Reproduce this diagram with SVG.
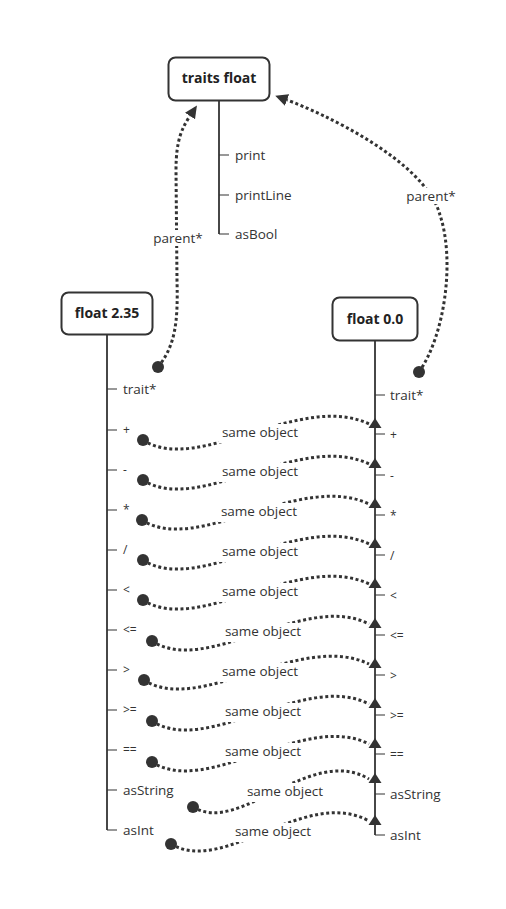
<svg xmlns="http://www.w3.org/2000/svg" width="506" height="909" viewBox="0 0 506 909">
<style>
.box{fill:#fff;stroke:#333;stroke-width:2}
.title{font-family:"Open Sans","DejaVu Sans",sans-serif;font-weight:bold;font-size:14px;fill:#222;text-anchor:middle}
.spine{stroke:#333;stroke-width:1.8;fill:none}
.tick{stroke:#333;stroke-width:1.2;fill:none}
.lbl{font-family:"Open Sans","DejaVu Sans",sans-serif;font-size:13.5px;fill:#333}
.sym{font-family:"Open Sans","DejaVu Sans",sans-serif;font-size:12px;fill:#333}
.dot{stroke:#333;stroke-width:3;stroke-dasharray:3 2.6;fill:none}
.cl{font-family:"Open Sans","DejaVu Sans",sans-serif;font-size:13.5px;fill:#333;text-anchor:middle}
.bg{fill:#fff}
.head{fill:#333}
</style>
<defs>
<marker id="ah" markerUnits="userSpaceOnUse" markerWidth="14" markerHeight="14" refX="0" refY="6" orient="auto" viewBox="0 0 14 12">
<path d="M0,0 L12.5,6 L0,12 z" fill="#333"/>
</marker>
<polygon id="up" points="375,0 381.5,10 368.5,10" fill="#333"/>
</defs>

<g id="traits-float">
<rect class="box" x="168.5" y="57.5" width="101" height="43" rx="7"/>
<text class="title" x="219" y="83">traits float</text>
<path class="spine" d="M219,101 V234"/>
<path class="tick" d="M219,155 H229 M219,195 H229 M219,234 H229"/>
<text class="lbl" x="235" y="160">print</text>
<text class="lbl" x="235" y="200">printLine</text>
<text class="lbl" x="235" y="239">asBool</text>
</g>

<g id="float-2.35">
<rect class="box" x="61.5" y="292.5" width="91" height="42" rx="7"/>
<text class="title" x="107" y="318">float 2.35</text>
<path class="spine" d="M107,335 V830"/>
<path class="tick" d="M107,389 H117 M107,430 H117 M107,470 H117 M107,510 H117 M107,550 H117 M107,590 H117 M107,630 H117 M107,670 H117 M107,710 H117 M107,750 H117 M107,790 H117 M107,830 H117"/>
<text class="lbl" x="123" y="394">trait*</text>
<text class="sym" x="123" y="434">+</text>
<text class="sym" x="123" y="474">-</text>
<text class="sym" x="123" y="514">*</text>
<text class="sym" x="123" y="554">/</text>
<text class="sym" x="123" y="594">&lt;</text>
<text class="sym" x="123" y="634">&lt;=</text>
<text class="sym" x="123" y="674">&gt;</text>
<text class="sym" x="123" y="714">&gt;=</text>
<text class="sym" x="123" y="754">==</text>
<text class="lbl" x="123" y="795">asString</text>
<text class="lbl" x="123" y="835">asInt</text>
</g>

<g id="float-0.0">
<rect class="box" x="332.5" y="297.5" width="85" height="43" rx="7"/>
<text class="title" x="375" y="324">float 0.0</text>
<path class="spine" d="M375,341 V835"/>
<path class="tick" d="M375,395 H385 M375,434 H385 M375,475 H385 M375,515 H385 M375,555 H385 M375,595 H385 M375,635 H385 M375,675 H385 M375,715 H385 M375,754 H385 M375,794 H385 M375,835 H385"/>
<text class="lbl" x="390" y="400">trait*</text>
<text class="sym" x="390" y="439">+</text>
<text class="sym" x="390" y="480">-</text>
<text class="sym" x="390" y="520">*</text>
<text class="sym" x="390" y="560">/</text>
<text class="sym" x="390" y="600">&lt;</text>
<text class="sym" x="390" y="640">&lt;=</text>
<text class="sym" x="390" y="680">&gt;</text>
<text class="sym" x="390" y="720">&gt;=</text>
<text class="sym" x="390" y="759">==</text>
<text class="lbl" x="390" y="799">asString</text>
<text class="lbl" x="390" y="840">asInt</text>
</g>

<g id="connectors">
<path class="dot" d="M158,367 C176,345 178,320 177,280 L176,170 C176,140 182,128 190,116" marker-end="url(#ah)"/>
<circle class="head" cx="158" cy="367" r="6"/>
<rect class="bg" x="152" y="230" width="52" height="16"/>
<text class="cl" x="178" y="243">parent*</text>

<path class="dot" d="M419,372 C445,335 455,260 440,215 C425,160 320,112 287,100" marker-end="url(#ah)"/>
<circle class="head" cx="419" cy="372" r="6"/>
<rect class="bg" x="405" y="188" width="52" height="16"/>
<text class="cl" x="431" y="201">parent*</text>

<path class="dot" d="M143,440 C198,476 300,391 369,424"/>
<path class="dot" d="M143,480 C198,516 300,431 369,464"/>
<path class="dot" d="M142,520 C197,556 300,471 369,504"/>
<path class="dot" d="M143,560 C198,596 300,511 369,544"/>
<path class="dot" d="M143,600 C198,636 300,551 369,584"/>
<path class="dot" d="M152,641 C207,677 305,591 369,624"/>
<path class="dot" d="M144,680 C199,716 300,631 369,664"/>
<path class="dot" d="M152,721 C207,757 305,671 369,704"/>
<path class="dot" d="M152,762 C207,798 305,711 369,744"/>
<path class="dot" d="M193,807 C240,836 310,744 369,779"/>
<path class="dot" d="M171,844 C225,876 305,786 369,821"/>

<use href="#up" y="418"/>
<use href="#up" y="458"/>
<use href="#up" y="498"/>
<use href="#up" y="538"/>
<use href="#up" y="578"/>
<use href="#up" y="618"/>
<use href="#up" y="658"/>
<use href="#up" y="698"/>
<use href="#up" y="738"/>
<use href="#up" y="773"/>
<use href="#up" y="815"/>

<circle class="head" cx="143" cy="440" r="6"/>
<circle class="head" cx="143" cy="480" r="6"/>
<circle class="head" cx="142" cy="520" r="6"/>
<circle class="head" cx="143" cy="560" r="6"/>
<circle class="head" cx="143" cy="600" r="6"/>
<circle class="head" cx="152" cy="641" r="6"/>
<circle class="head" cx="144" cy="680" r="6"/>
<circle class="head" cx="152" cy="721" r="6"/>
<circle class="head" cx="152" cy="762" r="6"/>
<circle class="head" cx="193" cy="807" r="6"/>
<circle class="head" cx="171" cy="844" r="6"/>

<g>
<rect class="bg" x="219" y="424" width="82" height="19"/>
<text class="cl" x="260" y="437">same object</text>
<rect class="bg" x="219" y="463" width="82" height="19"/>
<text class="cl" x="260" y="476">same object</text>
<rect class="bg" x="218" y="503" width="82" height="19"/>
<text class="cl" x="259" y="516">same object</text>
<rect class="bg" x="219" y="543" width="82" height="19"/>
<text class="cl" x="260" y="556">same object</text>
<rect class="bg" x="219" y="583" width="82" height="19"/>
<text class="cl" x="260" y="596">same object</text>
<rect class="bg" x="222" y="623" width="82" height="19"/>
<text class="cl" x="263" y="636">same object</text>
<rect class="bg" x="219" y="663" width="82" height="19"/>
<text class="cl" x="260" y="676">same object</text>
<rect class="bg" x="222" y="703" width="82" height="19"/>
<text class="cl" x="263" y="716">same object</text>
<rect class="bg" x="222" y="743" width="82" height="19"/>
<text class="cl" x="263" y="756">same object</text>
<rect class="bg" x="244" y="783" width="82" height="19"/>
<text class="cl" x="285" y="796">same object</text>
<rect class="bg" x="232" y="823" width="82" height="19"/>
<text class="cl" x="273" y="836">same object</text>
</g>
</g>
</svg>
